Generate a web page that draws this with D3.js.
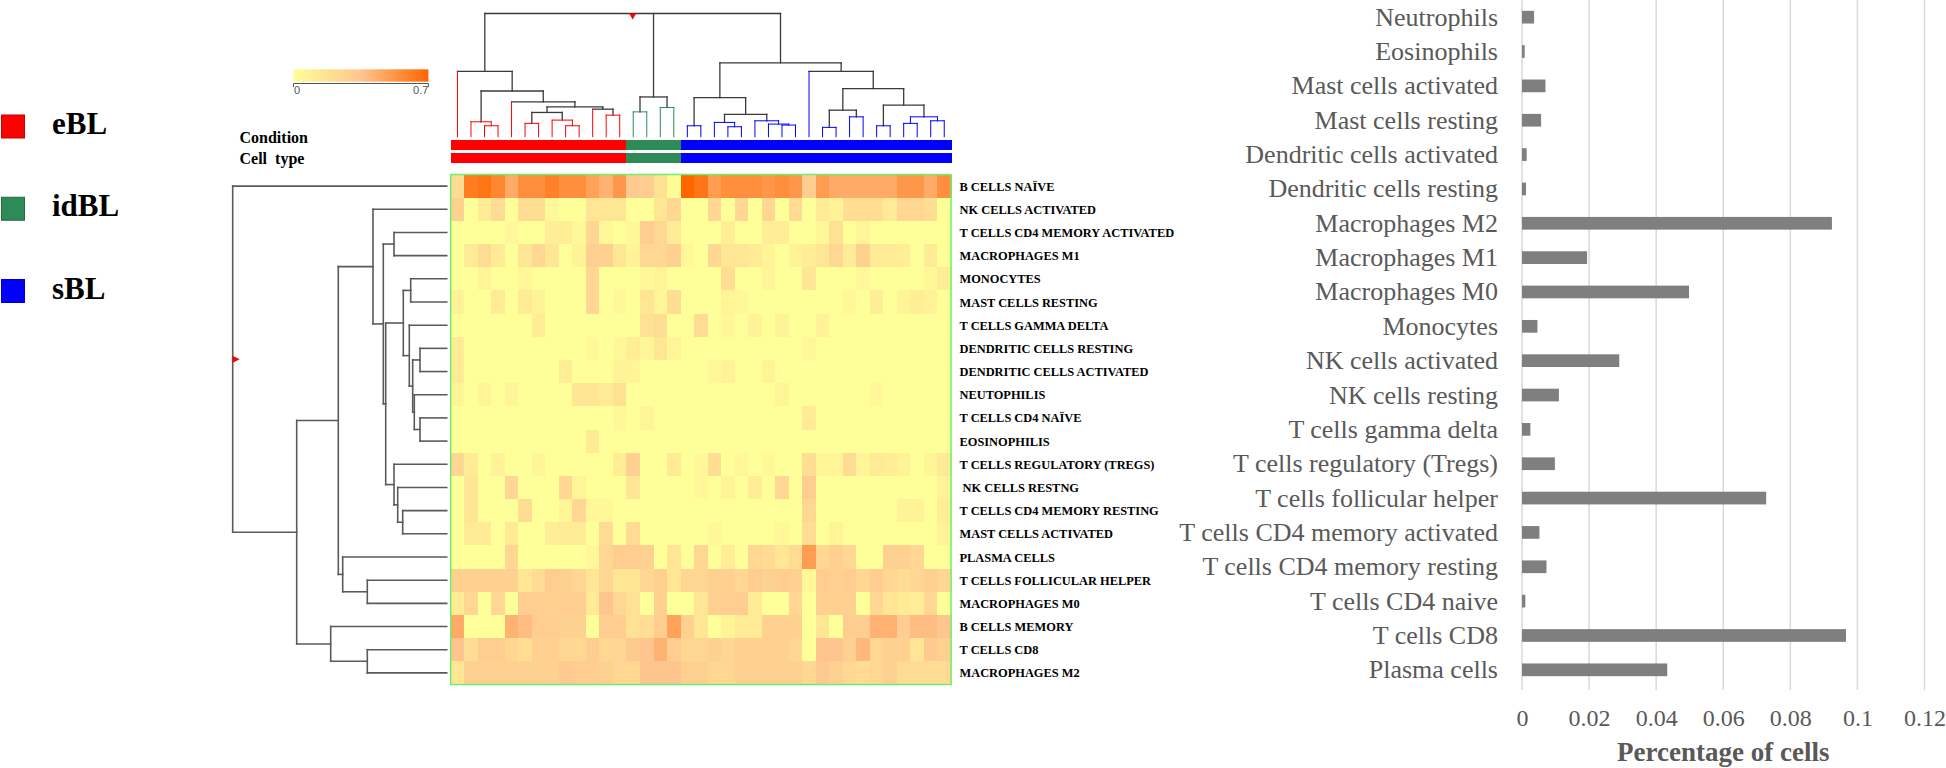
<!DOCTYPE html>
<html>
<head>
<meta charset="utf-8">
<script src="https://cdn.jsdelivr.net/npm/d3@7/dist/d3.min.js"></script>
<style>
  html,body{margin:0;padding:0;background:#ffffff;}
  svg{display:block;}
</style>
</head>
<body>
<svg id="chart" width="1946" height="768"></svg>
<script>
// ---------------- DATA ----------------
const legendGroups = ["eBL", "idBL", "sBL"];
const groupColors = ["#ff0000", "#2e8b57", "#0000ff"];

const sampleGroups = [
  "eBL","eBL","eBL","eBL","eBL","eBL","eBL","eBL","eBL","eBL","eBL","eBL","eBL",
  "idBL","idBL","idBL","idBL",
  "sBL","sBL","sBL","sBL","sBL","sBL","sBL","sBL","sBL","sBL",
  "sBL","sBL","sBL","sBL","sBL","sBL","sBL","sBL","sBL","sBL"
];

const heatRows = [
  "B CELLS NAÏVE", "NK CELLS ACTIVATED", "T CELLS CD4 MEMORY ACTIVATED", "MACROPHAGES M1",
  "MONOCYTES", "MAST CELLS RESTING", "T CELLS GAMMA DELTA", "DENDRITIC CELLS RESTING",
  "DENDRITIC CELLS ACTIVATED", "NEUTOPHILIS", "T CELLS CD4 NAÏVE", "EOSINOPHILIS",
  "T CELLS REGULATORY (TREGS)", " NK CELLS RESTNG", "T CELLS CD4 MEMORY RESTING", "MAST CELLS ACTIVATED",
  "PLASMA CELLS", "T CELLS FOLLICULAR HELPER", "MACROPHAGES M0", "B CELLS MEMORY",
  "T CELLS CD8", "MACROPHAGES M2"
];

const heatValues = [
  [0.22,0.62,0.65,0.58,0.45,0.55,0.55,0.6,0.55,0.55,0.48,0.42,0.52,0.32,0.3,0.18,0.02,0.7,0.65,0.5,0.55,0.55,0.55,0.52,0.55,0.52,0.3,0.5,0.45,0.45,0.45,0.45,0.45,0.52,0.52,0.45,0.55],
  [0.28,0,0.12,0.22,0,0.2,0.2,0.04,0,0,0.15,0.15,0.15,0,0,0.15,0.25,0,0,0.25,0,0.25,0,0.25,0,0.22,0,0.12,0.08,0.2,0.2,0.2,0.12,0.25,0.25,0.2,0],
  [0,0,0,0,0.05,0,0,0.1,0.1,0.05,0.25,0.05,0,0.05,0.3,0.25,0.12,0,0,0,0.1,0,0,0.1,0.1,0,0,0.05,0.18,0,0.06,0,0,0,0,0,0],
  [0,0.12,0.22,0.12,0,0.15,0.25,0.15,0,0.08,0.28,0.28,0.15,0.08,0.25,0.25,0.28,0.05,0,0.25,0.15,0.15,0.12,0.06,0,0.08,0.1,0.15,0.25,0.12,0.28,0.12,0.12,0.1,0,0.12,0],
  [0,0,0.06,0,0,0.05,0,0,0,0,0.25,0,0,0,0.04,0.06,0,0,0,0,0.2,0,0,0.06,0,0,0.15,0,0,0,0.05,0,0,0,0,0.05,0.1],
  [0.08,0,0,0.12,0,0.12,0.08,0,0,0,0.25,0,0.04,0,0.15,0.06,0.2,0,0,0,0.06,0.05,0,0,0,0,0,0,0,0.05,0,0.1,0,0.06,0.1,0.08,0],
  [0,0,0,0,0,0,0.1,0,0,0,0,0,0,0,0.18,0.2,0,0,0.22,0,0.05,0,0.08,0,0.07,0,0,0.08,0,0,0,0,0,0,0,0,0],
  [0.12,0,0,0,0,0,0,0,0,0,0.05,0,0.04,0.1,0.06,0.15,0.06,0,0,0,0,0,0,0,0,0,0.04,0,0,0,0,0,0,0,0,0,0],
  [0.12,0,0,0,0,0,0,0,0.1,0,0,0,0.08,0.06,0,0,0,0,0,0.04,0.08,0,0,0.06,0,0,0,0,0,0,0,0,0,0,0,0,0],
  [0.06,0,0.06,0,0.06,0,0,0,0,0.15,0.15,0.12,0.18,0,0,0,0,0,0,0,0,0,0,0,0.06,0,0,0,0,0,0,0.05,0,0,0,0,0],
  [0,0,0,0,0,0,0,0,0,0,0,0,0.05,0,0.06,0,0,0,0,0,0,0,0,0,0,0,0.12,0,0,0,0,0,0,0,0,0,0],
  [0,0,0,0,0,0,0,0,0,0,0.12,0,0,0,0,0,0,0,0,0,0,0,0,0,0,0,0,0,0,0,0,0,0,0,0,0,0],
  [0.25,0.12,0,0.08,0,0,0.06,0,0,0,0,0,0.1,0.28,0,0,0.12,0,0.05,0.2,0,0.05,0,0.05,0,0,0.2,0.06,0.06,0.22,0.06,0.12,0.1,0.08,0,0.06,0.12],
  [0,0.15,0,0,0.25,0,0,0,0.25,0.06,0,0,0,0.15,0,0,0,0,0.05,0,0.06,0,0.1,0,0.25,0,0.3,0,0,0,0,0,0,0,0,0,0.08],
  [0,0.15,0,0,0,0.2,0,0,0.06,0.25,0.05,0.04,0,0,0,0,0,0,0,0,0,0,0,0,0,0,0.25,0,0,0,0,0,0,0.08,0.08,0,0.1],
  [0,0.12,0.12,0,0.12,0,0,0.1,0.12,0.12,0,0.22,0,0.22,0,0,0,0,0,0.04,0,0,0,0,0.04,0,0.2,0,0.06,0,0,0,0,0,0,0,0.08],
  [0,0,0,0,0.25,0,0,0,0,0,0.05,0.25,0.3,0.3,0.28,0,0.15,0,0.25,0,0.1,0,0.25,0.22,0.15,0.22,0.5,0.25,0.28,0.25,0,0,0.28,0.28,0.25,0,0],
  [0.28,0.28,0.28,0.28,0.28,0.15,0.22,0.3,0.28,0.25,0.15,0.25,0.15,0.15,0.25,0.28,0.15,0.25,0.25,0.28,0.28,0.25,0.3,0.28,0.3,0.28,0.04,0.3,0.28,0.3,0.25,0.3,0.25,0.2,0.25,0.28,0.25],
  [0.12,0.25,0,0.25,0,0.3,0.3,0.28,0.3,0.3,0.12,0.35,0.25,0.18,0,0.28,0,0,0.15,0.28,0.3,0.3,0.12,0,0,0.25,0,0.28,0.28,0.28,0,0.25,0.15,0.12,0.1,0.25,0],
  [0.45,0,0,0,0.42,0.38,0.3,0.3,0.28,0.28,0,0.3,0.3,0.18,0.2,0.3,0.48,0.28,0.15,0,0.06,0.12,0.12,0.28,0.28,0.28,0,0.15,0,0.3,0.3,0.42,0.42,0.3,0.38,0.38,0.35],
  [0.35,0.22,0.3,0.3,0.25,0.2,0.28,0.28,0.25,0.25,0.3,0.25,0.25,0.32,0.35,0.42,0.3,0.25,0.25,0.28,0.25,0.28,0.28,0.28,0.28,0.25,0,0.35,0.35,0.28,0.4,0.25,0.28,0.28,0.15,0.32,0.28],
  [0.15,0.28,0.28,0.28,0.28,0.28,0.28,0.28,0.32,0.3,0.3,0.28,0.25,0.25,0.35,0.35,0.35,0.28,0.28,0.25,0.25,0.28,0.28,0.28,0.28,0.28,0.25,0.32,0.28,0.25,0.22,0.25,0.28,0.22,0.22,0.22,0.22]
];

const heatColorDomain = [0, 0.35, 0.7];
const colorbarTicks = [0, 0.7];

// Row dendrogram: [height, child, child]; numbers are row indices
const rowTree = [214, 0,
  [150,
    [108.4,
      [73.7, 1,
        [63.4, [52.7, 2, 3],
          [61,
            [43.4, [36, 4, 5], [37.4, 6, [34, [26.7, 7, 8], [32.4, 9, [26.7, 10, 11]]]]],
            [52.7, 12, [49, 13, [44, 14, 15]]]
          ]
        ]
      ],
      [104, 16, [79.4, 17, 18]]
    ],
    [116, 19, [79.4, 20, 21]]
  ]
];

// Column dendrogram: numbers are sample (column) indices
const colTree = [124,
  [65.7, 0,
    [46, [15, 1, [11, 2, 3]],
      [35, 4,
        [30,
          [24.4, [13.4, 5, 6], [16.7, 7, [11, 8, 9]]],
          [27.7, 10, [21.7, 11, 12]]
        ]
      ]
    ]
  ],
  [40, [25, 13, 14], [29.4, 15, 16]],
  [74.4,
    [39.4, [11, 17, 18],
      [22.4, [14.4, 19, [10, 20, 21]], [16, 22, [12.7, 23, [11.7, 24, 25]]]]
    ],
    [65.7, 26,
      [48.4,
        [26.7, [9.4, 27, 28], [20, 29, 30]],
        [31.7, [11, 31, 32], [20, [13.4, 33, 34], [16, 35, 36]]]
      ]
    ]
  ]
];
const branchCut = {eBL: 22, idBL: 35, sBL: 21};

const barCategories = [
  "Neutrophils", "Eosinophils", "Mast cells activated", "Mast cells resting",
  "Dendritic cells activated", "Dendritic cells resting", "Macrophages M2", "Macrophages M1",
  "Macrophages M0", "Monocytes", "NK cells activated", "NK cells resting",
  "T cells gamma delta", "T cells regulatory (Tregs)", "T cells follicular helper",
  "T cells CD4 memory activated", "T cells CD4 memory resting", "T cells CD4 naive",
  "T cells CD8", "Plasma cells"
];
const barValues = [
  0.0036, 0.0008, 0.0070, 0.0057, 0.0014, 0.0012, 0.0924, 0.0194,
  0.0498, 0.0046, 0.0290, 0.0110, 0.0025, 0.0098, 0.0728,
  0.0052, 0.0073, 0.0010, 0.0966, 0.0433
];
const barTicks = [0, 0.02, 0.04, 0.06, 0.08, 0.1, 0.12];

// ---------------- RENDER ----------------
const svg = d3.select("#chart");
const serif = "'Liberation Serif', 'Times New Roman', serif";
const groupColor = d3.scaleOrdinal().domain(legendGroups).range(groupColors);

// Legend
const legY = d3.scalePoint().domain(legendGroups).range([127, 291.5]);
const leg = svg.append("g");
leg.selectAll("rect").data(legendGroups).join("rect")
  .attr("x", 1.5).attr("y", d => legY(d) - 12).attr("width", 23).attr("height", 23)
  .attr("fill", d => groupColor(d))
  .attr("stroke", d => d3.color(groupColor(d)).darker(0.7)).attr("stroke-width", 1);
leg.selectAll("text").data(legendGroups).join("text")
  .attr("x", 52).attr("y", d => legY(d) + 7)
  .attr("font-family", serif).attr("font-weight", "bold").attr("font-size", 31)
  .attr("fill", "#000").text(d => d);

// Heatmap scales
const xCol = d3.scaleBand().domain(d3.range(sampleGroups.length)).range([450.7, 951]);
const yRow = d3.scaleBand().domain(d3.range(heatRows.length)).range([174.5, 684.5]);
const heatColor = d3.scaleLinear().domain(heatColorDomain)
  .range(["#ffff99", "#ffc58f", "#ff6600"]).clamp(true);

// Colorbar
const defs = svg.append("defs");
const grad = defs.append("linearGradient").attr("id", "cbar").attr("x1", "0%").attr("x2", "100%");
d3.range(0, 1.0001, 0.1).forEach(t => {
  grad.append("stop").attr("offset", (t * 100) + "%")
    .attr("stop-color", heatColor(t * heatColorDomain[2]));
});
const cbX = d3.scaleLinear().domain([0, 0.7]).range([293.5, 428.4]);
svg.append("rect").attr("x", cbX(0)).attr("y", 69.3).attr("width", cbX(0.7) - cbX(0)).attr("height", 12.4)
  .attr("fill", "url(#cbar)");
svg.append("line").attr("x1", cbX(0)).attr("x2", cbX(0.7)).attr("y1", 83.5).attr("y2", 83.5)
  .attr("stroke", "#555").attr("stroke-width", 1);
svg.selectAll(".cbt").data(colorbarTicks).join("line").attr("class", "cbt")
  .attr("x1", d => cbX(d)).attr("x2", d => cbX(d)).attr("y1", 83.5).attr("y2", 87)
  .attr("stroke", "#555").attr("stroke-width", 1);
svg.selectAll(".cbl").data(colorbarTicks).join("text").attr("class", "cbl")
  .attr("x", (d, i) => i === 0 ? cbX(d) + 0.5 : cbX(d))
  .attr("y", 94)
  .attr("text-anchor", (d, i) => i === 0 ? "start" : "end")
  .attr("font-family", "'Liberation Sans', Arial, sans-serif").attr("font-size", 11)
  .attr("fill", "#555").text(d => d3.format("~g")(d));

// Condition / Cell type labels and bars
const annRows = [{label: "Condition", y: 140, ty: 137}, {label: "Cell  type", y: 153.3, ty: 158}];
annRows.forEach(a => {
  svg.append("text").attr("x", 239.5).attr("y", a.ty)
    .attr("dominant-baseline", "central")
    .attr("font-family", serif).attr("font-weight", "bold").attr("font-size", 16)
    .attr("fill", "#000").style("white-space", "pre")
    .text(a.label);
  svg.append("g").selectAll("rect").data(sampleGroups).join("rect")
    .attr("x", (d, i) => xCol(i)).attr("y", a.y)
    .attr("width", xCol.bandwidth() + 0.6).attr("height", 10)
    .attr("fill", d => groupColor(d)).attr("shape-rendering", "crispEdges");
});

// Heatmap cells
const hm = svg.append("g");
heatValues.forEach((row, r) => {
  hm.append("g").selectAll("rect").data(row).join("rect")
    .attr("x", (d, c) => xCol(c)).attr("y", yRow(r))
    .attr("width", xCol.bandwidth() + 0.6).attr("height", yRow.bandwidth() + 0.6)
    .attr("fill", d => heatColor(d)).attr("shape-rendering", "crispEdges");
});
svg.append("rect").attr("x", 450.7).attr("y", 174.5).attr("width", 951 - 450.7).attr("height", 684.5 - 174.5)
  .attr("fill", "none").attr("stroke", "#6ef06e").attr("stroke-width", 1.5);

// Row labels
svg.append("g").selectAll("text").data(heatRows).join("text")
  .attr("x", 959.5).attr("y", (d, i) => yRow(i) + yRow.bandwidth() / 2 + 0.5)
  .attr("dominant-baseline", "central")
  .attr("font-family", serif).attr("font-weight", "bold").attr("font-size", 12.4)
  .attr("fill", "#000").style("white-space", "pre").text(d => d);

// Dendrogram helpers
function build(node, groupOf) {
  if (typeof node === "number") return {leaf: true, idx: node, h: 0, group: groupOf(node)};
  const [h, ...kids] = node;
  const children = kids.map(k => build(k, groupOf));
  return {leaf: false, h, children, group: children[0].group};
}
function place(n, posOf) {
  if (n.leaf) { n.pos = posOf(n.idx); return; }
  n.children.forEach(c => place(c, posOf));
  n.pos = (n.children[0].pos + n.children[n.children.length - 1].pos) / 2;
}
function walk(n, fn) { if (!n.leaf) { fn(n); n.children.forEach(c => walk(c, fn)); } }

// Row dendrogram (left)
const rRoot = build(rowTree, () => null);
place(rRoot, i => yRow(i) + yRow.bandwidth() / 2);
const hx = d3.scaleLinear().domain([0, rowTree[0]]).range([446.7, 232.7]);
const rSegs = [];
walk(rRoot, n => {
  const cs = n.children;
  rSegs.push([hx(n.h), cs[0].pos, hx(n.h), cs[cs.length - 1].pos]);
  cs.forEach(c => rSegs.push([hx(n.h), c.pos, hx(c.h), c.pos]));
});
svg.append("g").selectAll("line").data(rSegs).join("line")
  .attr("x1", d => d[0]).attr("y1", d => d[1]).attr("x2", d => d[2]).attr("y2", d => d[3])
  .attr("stroke", "#5a5a5a").attr("stroke-width", 1.6).attr("stroke-linecap", "square");
{
  const x = hx(rRoot.h), y = rRoot.pos;
  svg.append("path").attr("d", `M${x},${y - 3.5}L${x + 7},${y}L${x},${y + 3.5}Z`).attr("fill", "#ff0000");
}

// Column dendrogram (top)
const cRoot = build(colTree, i => sampleGroups[i]);
place(cRoot, i => xCol(i) + xCol.bandwidth() / 2);
const hy = d3.scaleLinear().domain([0, colTree[0]]).range([136.7, 13.5]);
const cSegs = [];
walk(cRoot, n => {
  const cs = n.children;
  const barCol = n.h < branchCut[n.group] ? groupColor(n.group) : "#3a3a3a";
  cSegs.push({s: [cs[0].pos, hy(n.h), cs[cs.length - 1].pos, hy(n.h)], c: barCol});
  cs.forEach(ch => {
    const col = (ch.leaf || n.h < branchCut[ch.group]) ? groupColor(ch.group) : "#3a3a3a";
    cSegs.push({s: [ch.pos, hy(n.h), ch.pos, hy(ch.h)], c: col});
  });
});
svg.append("g").selectAll("line").data(cSegs).join("line")
  .attr("x1", d => d.s[0]).attr("y1", d => d.s[1]).attr("x2", d => d.s[2]).attr("y2", d => d.s[3])
  .attr("stroke", d => d.c).attr("stroke-width", d => d.c === "#3a3a3a" ? 1.3 : 1)
  .attr("stroke-linecap", "square");
{
  const x = cRoot.pos, y = hy(cRoot.h);
  svg.append("path").attr("d", `M${x - 3.5},${y}L${x + 3.5},${y}L${x},${y + 6}Z`).attr("fill", "#ff0000");
}

// ---------------- BAR CHART ----------------
const xBar = d3.scaleLinear().domain([0, 0.12]).range([1522, 1924.5]);
const yBar = d3.scaleBand().domain(barCategories).range([0, 687]).paddingInner(0.63).paddingOuter(0.315);

svg.append("g").selectAll("line").data(barTicks).join("line")
  .attr("x1", d => xBar(d)).attr("x2", d => xBar(d)).attr("y1", 0).attr("y2", 690)
  .attr("stroke", "#d9d9d9").attr("stroke-width", 1.5);

svg.append("g").selectAll("rect").data(barCategories).join("rect")
  .attr("x", xBar(0)).attr("y", d => yBar(d))
  .attr("width", (d, i) => xBar(barValues[i]) - xBar(0)).attr("height", yBar.bandwidth())
  .attr("fill", "#7f7f7f");

svg.append("g").selectAll("text").data(barCategories).join("text")
  .attr("x", 1498).attr("y", d => yBar(d) + yBar.bandwidth() / 2)
  .attr("text-anchor", "end").attr("dominant-baseline", "central")
  .attr("font-family", serif).attr("font-size", 26).attr("fill", "#595959").text(d => d);

const axisG = svg.append("g").attr("transform", "translate(0,700)")
  .call(d3.axisBottom(xBar).tickValues(barTicks).tickSize(0).tickPadding(9).tickFormat(d3.format("~g")));
axisG.select(".domain").remove();
axisG.selectAll("text").attr("font-family", serif).attr("font-size", 24).attr("fill", "#595959");

svg.append("text").attr("x", xBar(0.06)).attr("y", 752)
  .attr("text-anchor", "middle").attr("dominant-baseline", "central")
  .attr("font-family", serif).attr("font-weight", "bold").attr("font-size", 27)
  .attr("fill", "#595959").text("Percentage of cells");
</script>
</body>
</html>
